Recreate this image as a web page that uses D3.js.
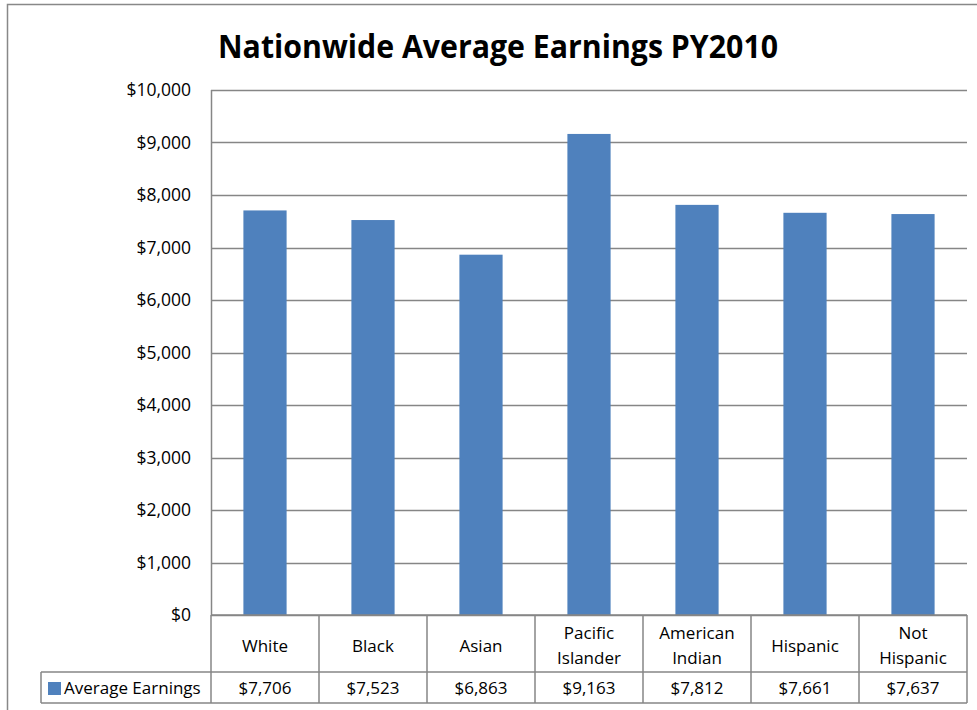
<!DOCTYPE html>
<meta charset="utf-8">
<style>
  body { margin: 0; background: #fff; }
  text { font-family: "Open Sans", "Liberation Sans", sans-serif; fill: #000; }
</style>
<body>
<script src="https://cdn.jsdelivr.net/npm/d3@7/dist/d3.min.js"></script>
<script>

// chart data
var categories = ["White", "Black", "Asian", "Pacific Islander", "American Indian", "Hispanic", "Not Hispanic"];
var categoryLines = [["White"], ["Black"], ["Asian"], ["Pacific", "Islander"], ["American", "Indian"], ["Hispanic"], ["Not", "Hispanic"]];
var earnings = [7706, 7523, 6863, 9163, 7812, 7661, 7637];
var yTicks = [0, 1000, 2000, 3000, 4000, 5000, 6000, 7000, 8000, 9000, 10000];
var seriesName = "Average Earnings";

var W = 977, H = 710;
var margin = {top: 90, right: 10, bottom: 95, left: 211},
    width = 967 - margin.left,
    height = 615 - margin.top;

var svg = d3.select("body").append("svg")
    .attr("width", W)
    .attr("height", H);

// outer chart border
svg.append("path")
    .attr("d", "M7.5,712 V4.5 H980")
    .attr("fill", "none")
    .attr("stroke", "#888")
    .attr("stroke-width", 1.5);

svg.append("text")
    .attr("x", 498)
    .attr("y", 58)
    .attr("text-anchor", "middle")
    .attr("font-size", 32)
    .attr("font-weight", "bold")
    .attr("textLength", 560)
    .attr("lengthAdjust", "spacingAndGlyphs")
    .text("Nationwide Average Earnings PY2010");

var g = svg.append("g")
    .attr("transform", "translate(" + margin.left + "," + margin.top + ")");

var x = d3.scaleBand()
    .domain(categories)
    .range([0, width])
    .paddingInner(0.6)
    .paddingOuter(0.3);

var xCol = d3.scaleBand()
    .domain(categories)
    .range([0, width]);

var y = d3.scaleLinear()
    .domain([0, 10000])
    .range([height, 0]);

// gridlines
g.selectAll(".grid")
    .data(yTicks)
    .enter().append("line")
    .attr("x1", 0)
    .attr("x2", width)
    .attr("y1", function (d) { return Math.round(y(d)) + 0.5; })
    .attr("y2", function (d) { return Math.round(y(d)) + 0.5; })
    .attr("stroke", "#868686")
    .attr("stroke-width", 1.5);

// y axis labels
var yAxis = d3.axisLeft(y)
    .tickValues(yTicks)
    .tickSize(0)
    .tickPadding(20)
    .tickFormat(function (d) { return "$" + d3.format(",")(d); });

g.append("g")
    .call(yAxis)
    .call(function (s) { s.select(".domain").remove(); })
    .selectAll("text")
    .attr("font-size", 17.5)
    .attr("font-family", "'Open Sans', sans-serif")
    .attr("fill", "#000");

// left axis line
g.append("line")
    .attr("x1", 0.5).attr("x2", 0.5)
    .attr("y1", 0).attr("y2", height)
    .attr("stroke", "#868686")
    .attr("stroke-width", 1.5);

// bars
g.selectAll(".bar")
    .data(earnings)
    .enter().append("rect")
    .attr("class", "bar")
    .attr("x", function (d, i) { return x(categories[i]); })
    .attr("width", x.bandwidth())
    .attr("y", function (d) { return y(d); })
    .attr("height", function (d) { return height - y(d); })
    .attr("fill", "#4f81bd");

// data table
var row1 = height, row2 = height + 57, row3 = height + 88;
var tbl = g.append("g")
    .attr("fill", "none")
    .attr("stroke", "#868686")
    .attr("stroke-width", 1.5);

tbl.append("line").attr("x1", 0).attr("x2", width).attr("y1", row1).attr("y2", row1);
tbl.append("line").attr("x1", 41 - margin.left).attr("x2", width).attr("y1", row2).attr("y2", row2);
tbl.append("line").attr("x1", 41 - margin.left).attr("x2", width).attr("y1", row3).attr("y2", row3);
tbl.append("line").attr("x1", 41 - margin.left).attr("x2", 41 - margin.left).attr("y1", row2).attr("y2", row3);

tbl.selectAll(".vline")
    .data(categories.concat(["end"]))
    .enter().append("line")
    .attr("x1", function (d, i) { return i * xCol.bandwidth(); })
    .attr("x2", function (d, i) { return i * xCol.bandwidth(); })
    .attr("y1", row1)
    .attr("y2", row3);

// category labels
var cat = g.selectAll(".cat")
    .data(categoryLines)
    .enter().append("text")
    .attr("text-anchor", "middle")
    .attr("font-size", 17)
    .attr("x", function (d, i) { return xCol(categories[i]) + xCol.bandwidth() / 2; })
    .attr("y", function (d) { return d.length == 1 ? row1 + 37 : row1 + 24; });

cat.selectAll("tspan")
    .data(function (d) { return d; })
    .enter().append("tspan")
    .attr("x", function () { return this.parentNode.getAttribute("x"); })
    .attr("dy", function (d, i) { return i == 0 ? 0 : 25; })
    .text(function (d) { return d; });

// value labels
g.selectAll(".val")
    .data(earnings)
    .enter().append("text")
    .attr("text-anchor", "middle")
    .attr("font-size", 17)
    .attr("x", function (d, i) { return xCol(categories[i]) + xCol.bandwidth() / 2; })
    .attr("y", row2 + 22)
    .text(function (d) { return "$" + d3.format(",")(d); });

// legend key
g.append("rect")
    .attr("x", 48 - margin.left)
    .attr("y", row2 + 10)
    .attr("width", 13)
    .attr("height", 13)
    .attr("fill", "#4f81bd");

g.append("text")
    .attr("x", 64 - margin.left)
    .attr("y", row2 + 22)
    .attr("font-size", 17)
    .text(seriesName);

</script>
</body>
